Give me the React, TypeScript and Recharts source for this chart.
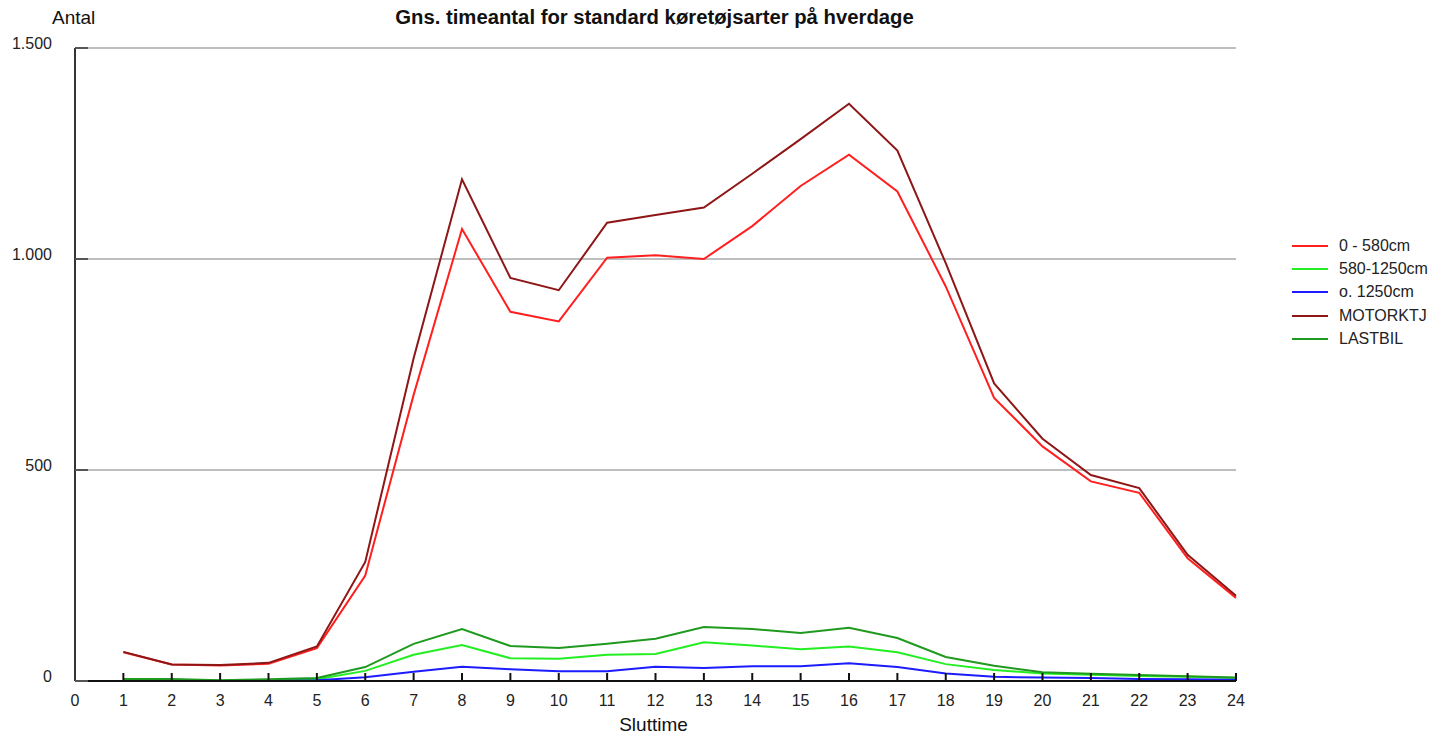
import { LineChart, Line, XAxis, YAxis, CartesianGrid } from "recharts";

const hours = [1, 2, 3, 4, 5, 6, 7, 8, 9, 10, 11, 12, 13, 14, 15, 16, 17, 18, 19, 20, 21, 22, 23, 24];

// Gns. timeantal pr. køretøjsart
const upTo580 = [68, 39, 37, 41, 78, 250, 678, 1071, 875, 852, 1003, 1009, 1000, 1078, 1173, 1247, 1160, 935, 671, 556, 473, 446, 291, 197];
const from580to1250 = [3, 3, 1, 2, 4, 24, 62, 85, 54, 53, 62, 64, 92, 84, 75, 82, 68, 40, 26, 18, 15, 12, 10, 7];
const over1250 = [1, 1, 0, 1, 2, 9, 22, 34, 28, 23, 23, 34, 31, 35, 35, 42, 33, 18, 10, 8, 7, 5, 4, 3];
const motorktj = [69, 39, 38, 43, 82, 282, 765, 1189, 955, 926, 1086, 1104, 1122, 1202, 1284, 1368, 1257, 990, 705, 574, 488, 457, 299, 202];
const lastbil = [5, 5, 2, 4, 7, 33, 88, 123, 83, 78, 88, 100, 128, 123, 114, 126, 102, 57, 36, 21, 17, 14, 11, 8];

const xTicks = [0, ...hours];
const yTicks = [0, 500, 1000, 1500];

const series = [
  { key: "a", name: "0 - 580cm", color: "#ff1f1f", values: upTo580 },
  { key: "b", name: "580-1250cm", color: "#22ee22", values: from580to1250 },
  { key: "c", name: "o. 1250cm", color: "#1c1cff", values: over1250 },
  { key: "d", name: "MOTORKTJ", color: "#8e1616", values: motorktj },
  { key: "e", name: "LASTBIL", color: "#1f9a1f", values: lastbil },
];

const data = hours.map((h, i) => {
  const row: Record<string, number> = { hour: h };
  series.forEach((s) => (row[s.key] = s.values[i]));
  return row;
});

const FONT = "'Liberation Sans', Arial, Helvetica, sans-serif";

const XTick = (props: any) => {
  const { x, y, payload } = props;
  return (
    <g>
      {payload.value !== 0 && <line x1={x} x2={x} y1={y - 8} y2={y} stroke="#111" strokeWidth={2} />}
      <text x={x} y={y + 25} textAnchor="middle" fontSize={16} fill="#222" fontFamily={FONT}>
        {payload.value}
      </text>
    </g>
  );
};

const YTick = (props: any) => {
  const { y, payload } = props;
  const label = payload.value.toLocaleString("da-DK");
  return (
    <g>
      <line x1={75} x2={88} y1={y} y2={y} stroke="#555" strokeWidth={2} />
      <text x={52} y={y + 1} textAnchor="end" fontSize={16} fill="#222" fontFamily={FONT}>
        {label}
      </text>
    </g>
  );
};

export default function App() {
  return (
    <div style={{ position: "relative", width: 1441, height: 737, background: "#fff", fontFamily: FONT }}>
      <style>{`body{margin:0}`}</style>
      <LineChart
        width={1441}
        height={737}
        data={data}
        margin={{ top: 48, right: 205, bottom: 0, left: 15 }}
      >
        <CartesianGrid horizontal vertical={false} stroke="#a8a8a8" strokeWidth={1.5} />
        <XAxis
          dataKey="hour"
          type="number"
          domain={[0, 24]}
          ticks={xTicks}
          interval={0}
          height={56}
          tickSize={0}
          tickMargin={0}
          tickLine={false}
          axisLine={{ stroke: "#111", strokeWidth: 2 }}
          tick={<XTick />}
        />
        <YAxis
          type="number"
          domain={[0, 1500]}
          ticks={yTicks}
          width={60}
          tickSize={0}
          tickMargin={0}
          tickLine={false}
          axisLine={{ stroke: "#333", strokeWidth: 2 }}
          tick={<YTick />}
        />
        {series.map((s) => (
          <Line
            key={s.key}
            dataKey={s.key}
            name={s.name}
            stroke={s.color}
            strokeWidth={2}
            dot={false}
            activeDot={false}
            isAnimationActive={false}
          />
        ))}
      </LineChart>

      <div style={{ position: "absolute", left: 52, top: 7, fontSize: 19, color: "#111" }}>Antal</div>
      <div
        style={{
          position: "absolute",
          left: 0,
          width: 1309,
          top: 6,
          textAlign: "center",
          fontSize: 20.3,
          fontWeight: "bold",
          color: "#111",
        }}
      >
        Gns. timeantal for standard køretøjsarter på hverdage
      </div>
      <div style={{ position: "absolute", left: 0, width: 1307, top: 714, textAlign: "center", fontSize: 19, color: "#111" }}>
        Sluttime
      </div>

      <div style={{ position: "absolute", left: 1292, top: 234 }}>
        {series.map((s) => (
          <div key={s.key} style={{ display: "flex", alignItems: "center", height: 23.3 }}>
            <span style={{ display: "inline-block", width: 36, height: 2, background: s.color }} />
            <span style={{ marginLeft: 11, fontSize: 16, color: "#222" }}>{s.name}</span>
          </div>
        ))}
      </div>
    </div>
  );
}
